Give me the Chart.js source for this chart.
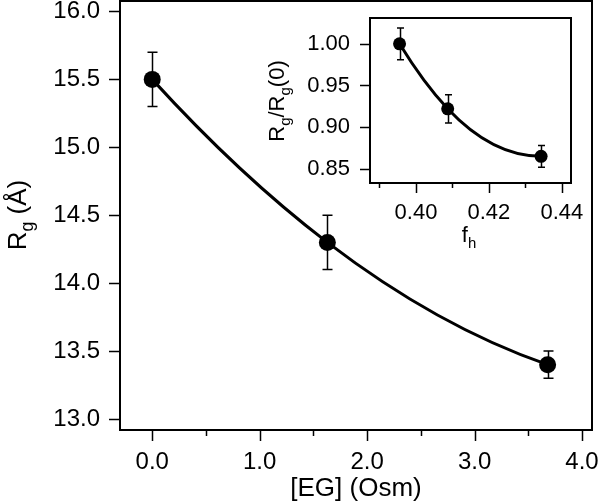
<!DOCTYPE html>
<html>
<head>
<meta charset="utf-8">
<script src="https://cdn.jsdelivr.net/npm/chart.js@4.4.0/dist/chart.umd.min.js"></script>
<style>
  body { margin: 0; background: #fff; }
  #wrap { position: relative; width: 600px; height: 504px; }
  canvas { position: absolute; }
</style>
</head>
<body>
<div id="wrap">
  <canvas id="main" width="600" height="504" style="left:0;top:0;width:600px;height:504px"></canvas>
  <canvas id="inset" width="360" height="260" style="left:240px;top:0;width:360px;height:260px"></canvas>
</div>
<script>
// main panel: Rg vs [EG]
var egOsm = [0.0, 1.63, 3.68];
var rg = [15.5, 14.3, 13.4];
var rgErr = [0.2, 0.2, 0.1];

// inset: Rg/Rg(0) vs fh
var fh = [0.3955, 0.4087, 0.4343];
var rgRatio = [1.000, 0.922, 0.865];
var rgRatioErr = [0.019, 0.017, 0.013];

var mainXTicks = [0, 0.5, 1, 1.5, 2, 2.5, 3, 3.5, 4];
var mainXLabels = ['0.0', '', '1.0', '', '2.0', '', '3.0', '', '4.0'];
var mainYTicks = [13, 13.5, 14, 14.5, 15, 15.5, 16];
var mainYLabels = ['13.0', '13.5', '14.0', '14.5', '15.0', '15.5', '16.0'];

var insetXTicks = [0.39, 0.40, 0.41, 0.42, 0.43, 0.44];
var insetXLabels = ['', '0.40', '', '0.42', '', '0.44'];
var insetYTicks = [0.85, 0.90, 0.95, 1.00];
var insetYLabels = ['0.85', '0.90', '0.95', '1.00'];

var FONT = "'Liberation Sans', Arial, Helvetica, sans-serif";

function toXY(xs, ys) {
    return xs.map(function(x, i) { return {x: x, y: ys[i]}; });
}

// draw text with subscript parts: [[text, isSub], ...]
function drawParts(ctx, parts, x, y, size, centered) {
    var total = 0;
    parts.forEach(function(p) {
        ctx.font = (p[1] ? size * 0.68 : size) + 'px ' + FONT;
        total += ctx.measureText(p[0]).width;
    });
    var cx = centered ? x - total / 2 : x;
    parts.forEach(function(p) {
        ctx.font = (p[1] ? size * 0.68 : size) + 'px ' + FONT;
        ctx.fillText(p[0], cx, p[1] ? y + size * 0.28 : y);
        cx += ctx.measureText(p[0]).width;
    });
}

// smooth convex curve: tangents from the parabola through neighbouring points
function smoothLine(chart) {
    var line = chart.getDatasetMeta(0).dataset;
    if (!line) return;
    if (line.updateControlPoints) line.updateControlPoints(chart.chartArea, 'x');
    var pts = line.points;
    var n = pts.length;
    var m = [];
    for (var i = 0; i < n; i++) {
        var a = pts[Math.max(0, Math.min(i - 1, n - 3))];
        var b = pts[Math.max(1, Math.min(i, n - 2))];
        var c = pts[Math.min(n - 1, Math.max(i + 1, 2))];
        var s1 = (b.y - a.y) / (b.x - a.x);
        var s2 = (c.y - b.y) / (c.x - b.x);
        var k = (s2 - s1) / (c.x - a.x);
        var d = s1 + k * (2 * pts[i].x - a.x - b.x);
        var sec = i < n - 1 ? (pts[i + 1].y - pts[i].y) : (pts[i].y - pts[i - 1].y);
        if (d * sec < 0) d = 0;
        m.push(d);
    }
    for (var j = 0; j < n - 1; j++) {
        var h = pts[j + 1].x - pts[j].x;
        pts[j].cp2x = pts[j].x + h / 3;
        pts[j].cp2y = pts[j].y + m[j] * h / 3;
        pts[j + 1].cp1x = pts[j + 1].x - h / 3;
        pts[j + 1].cp1y = pts[j + 1].y - m[j + 1] * h / 3;
    }
    line._path = undefined;
}

function framePlugin(cfg) {
    return {
        id: 'frame',
        beforeDatasetsDraw: function(chart) {
            smoothLine(chart);
            var ctx = chart.ctx;
            var xs = chart.scales.x, ys = chart.scales.y;
            ctx.save();
            ctx.strokeStyle = '#000';
            ctx.lineWidth = 1.5;
            cfg.xs.forEach(function(xv, i) {
                var px = Math.round(xs.getPixelForValue(xv)) + 0.5;
                var top = ys.getPixelForValue(cfg.ys[i] + cfg.err[i]);
                var bot = ys.getPixelForValue(cfg.ys[i] - cfg.err[i]);
                ctx.beginPath();
                ctx.moveTo(px, top); ctx.lineTo(px, bot);
                ctx.moveTo(px - cfg.cap, top); ctx.lineTo(px + cfg.cap, top);
                ctx.moveTo(px - cfg.cap, bot); ctx.lineTo(px + cfg.cap, bot);
                ctx.stroke();
            });
            ctx.restore();
        },
        afterDraw: function(chart) {
            var ctx = chart.ctx;
            var a = chart.chartArea;
            var xs = chart.scales.x, ys = chart.scales.y;
            ctx.save();
            ctx.strokeStyle = '#000';
            ctx.lineWidth = 2;
            ctx.strokeRect(a.left, a.top, a.right - a.left, a.bottom - a.top);
            ctx.lineWidth = 1.5;
            ctx.beginPath();
            xs.ticks.forEach(function(t, i) {
                var px = Math.round(xs.getPixelForValue(t.value)) + 0.5;
                var len = cfg.xLabels[i] ? cfg.major : cfg.minor;
                ctx.moveTo(px, a.bottom); ctx.lineTo(px, a.bottom + len);
            });
            ys.ticks.forEach(function(t) {
                var py = Math.round(ys.getPixelForValue(t.value)) + 0.5;
                ctx.moveTo(a.left, py); ctx.lineTo(a.left - cfg.major, py);
            });
            ctx.stroke();

            ctx.fillStyle = '#000';
            ctx.textBaseline = 'alphabetic';
            ctx.textAlign = 'left';
            drawParts(ctx, cfg.xTitle, cfg.xTitlePos[0], cfg.xTitlePos[1], cfg.titleSize, true);
            ctx.translate(cfg.yTitlePos[0], cfg.yTitlePos[1]);
            ctx.rotate(-Math.PI / 2);
            drawParts(ctx, cfg.yTitle, 0, 0, cfg.titleSize, true);
            ctx.restore();
        }
    };
}

function axisOpts(min, max, ticks, labels, size, pad, fixed, isY) {
    return {
        type: 'linear',
        min: min,
        max: max,
        border: {display: false},
        grid: {display: false},
        afterBuildTicks: function(scale) {
            scale.ticks = ticks.map(function(v) { return {value: v}; });
        },
        afterFit: function(scale) {
            if (isY) scale.width = fixed; else scale.height = fixed;
            scale.paddingLeft = scale.paddingRight = 0;
            scale.paddingTop = scale.paddingBottom = 0;
        },
        ticks: {
            autoSkip: false,
            maxRotation: 0,
            padding: pad,
            color: '#000',
            font: {family: FONT, size: size},
            callback: function(value, index) { return labels[index]; }
        }
    };
}

function lineSet(xs, ys, radius, width) {
    return {
        data: toXY(xs, ys),
        showLine: true,
        borderColor: '#000',
        backgroundColor: '#000',
        borderWidth: width,
        pointRadius: radius,
        pointBorderWidth: 0,
        pointBackgroundColor: '#000',
        tension: 0.4,
        fill: false
    };
}

new Chart(document.getElementById('main'), {
    type: 'scatter',
    data: { datasets: [ lineSet(egOsm, rg, 8.5, 3) ] },
    options: {
        responsive: false,
        animation: false,
        events: [],
        layout: { autoPadding: false, padding: {left: 0, top: 1, right: 8, bottom: 0} },
        plugins: { legend: {display: false}, tooltip: {enabled: false} },
        scales: {
            x: axisOpts(-0.3, 4.093, mainXTicks, mainXLabels, 24, 10, 74, false),
            y: axisOpts(12.919, 16.077, mainYTicks, mainYLabels, 24, 12, 120, true)
        }
    },
    plugins: [framePlugin({
        xs: egOsm, ys: rg, err: rgErr, cap: 5,
        xLabels: mainXLabels, major: 11, minor: 6,
        titleSize: 26,
        xTitle: [['[EG] (Osm)', 0]], xTitlePos: [356, 496],
        yTitle: [['R', 0], ['g', 1], [' (Å)', 0]], yTitlePos: [26, 215]
    })]
});

new Chart(document.getElementById('inset'), {
    type: 'scatter',
    data: { datasets: [ lineSet(fh, rgRatio, 6.5, 3) ] },
    options: {
        responsive: false,
        animation: false,
        events: [],
        layout: { autoPadding: false, padding: {left: 0, top: 18, right: 29, bottom: 0} },
        plugins: { legend: {display: false}, tooltip: {enabled: false} },
        scales: {
            x: axisOpts(0.3874, 0.4425, insetXTicks, insetXLabels, 22, 9, 77, false),
            y: axisOpts(0.833, 1.031, insetYTicks, insetYLabels, 22, 12, 130, true)
        }
    },
    plugins: [framePlugin({
        xs: fh, ys: rgRatio, err: rgRatioErr, cap: 3.5,
        xLabels: insetXLabels, major: 10, minor: 5,
        titleSize: 22,
        xTitle: [['f', 0], ['h', 1]], xTitlePos: [229, 242],
        yTitle: [['R', 0], ['g', 1], ['/R', 0], ['g', 1], ['(0)', 0]], yTitlePos: [44, 101]
    })]
});
</script>
</body>
</html>
